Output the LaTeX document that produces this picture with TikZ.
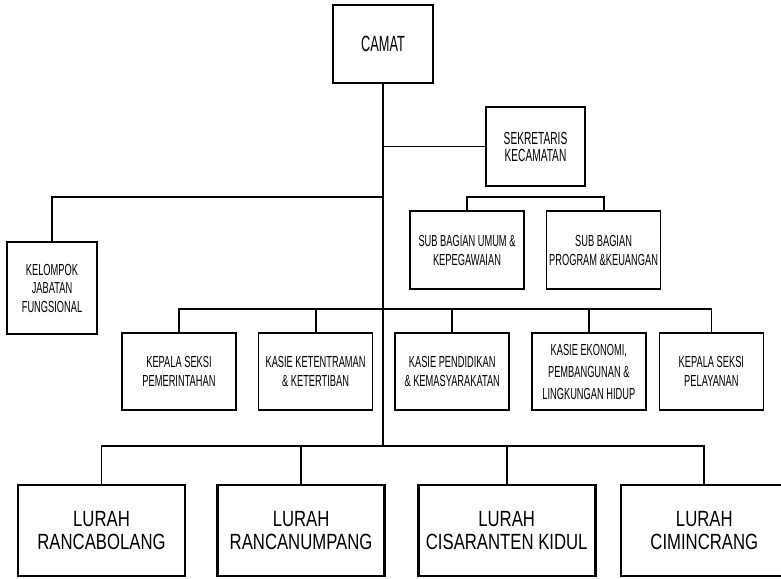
\documentclass[tikz,border=0pt]{standalone}
\usepackage{fontspec}
\setmainfont{Liberation Sans}
\newfontfamily\narrowfont{Liberation Sans}[FakeStretch=0.58]
\newfontfamily\lurahfont{Liberation Sans}[FakeStretch=0.76]
\usetikzlibrary{positioning}

\begin{document}
\begin{tikzpicture}[
    x=1pt, y=-1pt,
    box/.style={rectangle, draw=black, line width=1.6pt, minimum width=114pt, minimum height=77pt, inner sep=1pt, align=center, font=\narrowfont\fontsize{16}{19}\selectfont},
    lurah/.style={box, line width=2.6pt, minimum width=167pt, minimum height=91pt, font=\lurahfont\fontsize{22}{22.5}\selectfont},
    conn/.style={line width=1.8pt}
    ]
    \useasboundingbox (0,0) rectangle (781,578);

    % Pimpinan
    \node (camat) [box, minimum width=100pt, minimum height=78pt, font=\narrowfont\fontsize{22}{22}\selectfont] at (383,44) {CAMAT};
    \node (sek) [box, minimum width=99pt, minimum height=79pt, font=\narrowfont\fontsize{17.5}{17}\selectfont] at (535.5,146.5) {SEKRETARIS\\KECAMATAN};
    \node (kjf) [box, minimum width=90pt, minimum height=92pt, font=\narrowfont\fontsize{16}{18.5}\selectfont] at (52,288) {KELOMPOK\\JABATAN\\FUNGSIONAL};

    % Sub bagian
    \node (sbumum) [box, minimum height=78pt] at (467,250) {SUB BAGIAN UMUM \&\\KEPEGAWAIAN};
    \node (sbprog) [box, minimum height=78pt, right=21pt of sbumum] {SUB BAGIAN\\PROGRAM \&KEUANGAN};

    % Kepala seksi
    \node (pem) [box] at (179,371.5) {KEPALA SEKSI\\PEMERINTAHAN};
    \node (trantib) [box, right=21pt of pem] {KASIE KETENTRAMAN\\\& KETERTIBAN};
    \node (didik) [box, right=21pt of trantib] {KASIE PENDIDIKAN\\\& KEMASYARAKATAN};
    \node (ekbang) [box, right=21pt of didik, font=\narrowfont\fontsize{16}{22}\selectfont] {KASIE EKONOMI,\\PEMBANGUNAN \&\\LINGKUNGAN HIDUP};
    \node (yan) [box, minimum width=104pt, right=12pt of ekbang] {KEPALA SEKSI\\PELAYANAN};

    % Kelurahan
    \node (rcb) [lurah] at (101.5,530.5) {LURAH\\RANCABOLANG};
    \node (rcn) [lurah, right=30pt of rcb] {LURAH\\RANCANUMPANG};
    \node (csk) [lurah, minimum width=177pt, right=31pt of rcn] {LURAH\\CISARANTEN KIDUL};
    \node (cmc) [lurah, right=23pt of csk] {LURAH\\CIMINCRANG};

    \coordinate (trunk) at (383,447);
    \coordinate (kjfbar) at (383,197);

    % Garis
    \draw [conn] (camat) -- (trunk);
    \draw [conn] (sek.west) -- (sek.west -| camat.south);
    \draw [conn] (kjf.north) |- (kjfbar);
    \draw [conn] (sbumum.north) -- ++(0,-13) -| (sbprog.north);
    \draw [conn] (pem.north) -- ++(0,-23) -| (yan.north);
    \foreach \n in {trantib, didik, ekbang}
        \draw [conn] (\n.north) -- ++(0,-23);
    \draw [conn] (rcb.north) -- ++(0,-38) -| (cmc.north);
    \foreach \n in {rcn, csk}
        \draw [conn] (\n.north) -- ++(0,-38);

\end{tikzpicture}
\end{document}
